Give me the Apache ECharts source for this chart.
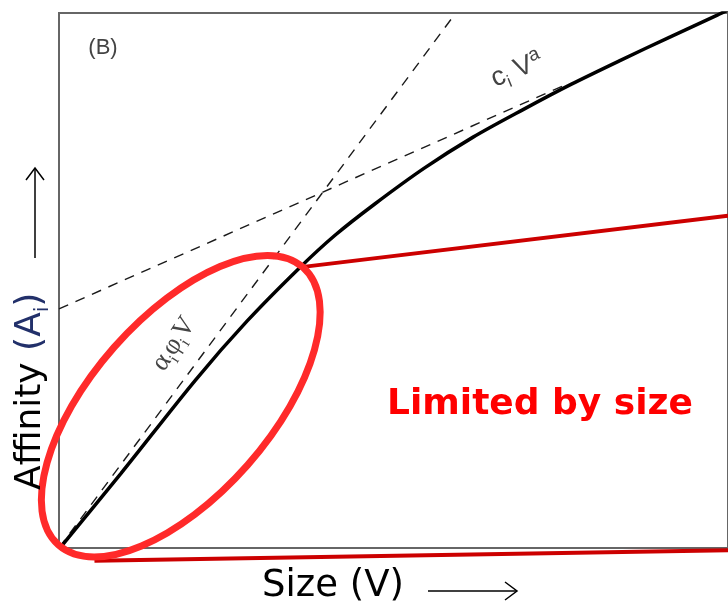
<!DOCTYPE html>
<html><head><meta charset="utf-8">
<script src="https://cdn.jsdelivr.net/npm/echarts/dist/echarts.min.js"></script>
<style>html,body{margin:0;padding:0;background:#fff}#c{width:728px;height:607px}</style>
</head><body><div id="c"></div>
<script>
const curveV = [0.4, 9.3, 20.4, 28.1, 35.9, 41.3, 47.2, 54.6, 61.9, 69.3, 76.6, 84.0, 91.3, 98.4, 100];
const curveA = [0.4, 14.0, 31.4, 42.4, 52.3, 58.5, 64.3, 71.0, 76.8, 81.9, 86.7, 91.2, 95.5, 99.6, 100.6];
// Dashed asymptote alpha_i phi_i V (linear)
const linV = [0, 59.3];
const linA = [0, 100];
// Dashed asymptote c_i V^a
const powV = [0, 75.9];
const powA = [44.7, 86.7];
// Red connector lines from the ellipse to the callout
const callTopV = [36.2, 100];
const callTopA = [52.5, 62.1];
const callBotV = [5.3, 100];
const callBotA = [-2.4, -0.4];
// Annotation anchors (data units)
const ellipseCenter = [18.2, 26.5];
const labelCalloutText = 'Limited by size';

const zip = (a, b) => a.map((v, i) => [v, b[i]]);
const chart = echarts.init(document.getElementById('c'), null, {renderer: 'canvas'});
const lineSeries = (data, color, width, type, z) => ({
  type: 'line', data, showSymbol: false, silent: true, clip: false, z: z || 2,
  lineStyle: {color, width, type: type || 'solid'}
});
chart.setOption({
  animation: false,
  backgroundColor: '#fff',
  grid: {left: 59, top: 13, width: 680, height: 535, show: true, borderColor: '#666', borderWidth: 2, backgroundColor: 'transparent'},
  xAxis: {type: 'value', min: 0, max: 100, axisLine: {show: false}, axisTick: {show: false}, axisLabel: {show: false}, splitLine: {show: false}},
  yAxis: {type: 'value', min: 0, max: 100, axisLine: {show: false}, axisTick: {show: false}, axisLabel: {show: false}, splitLine: {show: false}},
  series: [
    lineSeries(zip(linV, linA), '#1a1a1a', 1.4, [10, 8]),
    lineSeries(zip(powV, powA), '#1a1a1a', 1.4, [10, 8]),
    Object.assign(lineSeries(zip(curveV, curveA), '#000', 3.5), {smooth: 0.3, clip: true}),
    lineSeries(zip(callTopV, callTopA), '#cc0000', 4, 'solid', 3),
    lineSeries(zip(callBotV, callBotA), '#cc0000', 4, 'solid', 3)
  ]
});

const ec = chart.convertToPixel({gridIndex: 0}, ellipseCenter);
const arrowH = (x1, x2, y) => [
  {type: 'line', shape: {x1, y1: y, x2, y2: y}, style: {stroke: '#000', lineWidth: 1.5}},
  {type: 'polyline', shape: {points: [[x2 - 12, y - 9], [x2, y], [x2 - 12, y + 9]]}, style: {stroke: '#000', lineWidth: 1.5, fill: 'none'}}
];
const arrowV = (x, y1, y2) => [
  {type: 'line', shape: {x1: x, y1, x2: x, y2}, style: {stroke: '#000', lineWidth: 1.5}},
  {type: 'polyline', shape: {points: [[x - 9, y2 + 12], [x, y2], [x + 9, y2 + 12]]}, style: {stroke: '#000', lineWidth: 1.5, fill: 'none'}}
];
chart.setOption({
  graphic: [
    {type: 'ellipse', x: ec[0], y: ec[1], rotation: 48.6 * Math.PI / 180, z: 10,
      shape: {cx: 0, cy: 0, rx: 185, ry: 89}, style: {fill: 'none', stroke: '#ff2a2a', lineWidth: 7}},
    {type: 'text', x: 103, y: 48, z: 10, style: {text: '(B)', font: '22px "Liberation Sans", Arial', fill: '#444', textAlign: 'center', textVerticalAlign: 'middle'}},
    {type: 'text', x: 517, y: 70, z: 10, rotation: 22 * Math.PI / 180,
      style: {text: '{n|c}{s|i}{n| V}{p|a}', textAlign: 'center', textVerticalAlign: 'middle', fill: '#444',
        rich: {n: {font: '27px "Liberation Sans", Arial', fill: '#444', lineHeight: 34},
               s: {font: '17px "Liberation Sans", Arial', fill: '#444', verticalAlign: 'bottom', lineHeight: 34},
               p: {font: '19px "Liberation Sans", Arial', fill: '#444', verticalAlign: 'top', lineHeight: 34}}}},
    {type: 'text', x: 174, y: 344, z: 10, rotation: 57 * Math.PI / 180,
      style: {text: '{n|α}{s|i}{n|φ}{s|i}{n|V}', textAlign: 'center', textVerticalAlign: 'middle', fill: '#444',
        rich: {n: {font: '27px "Liberation Serif", serif', fill: '#444', lineHeight: 34},
               s: {font: '16px "Liberation Serif", serif', fill: '#444', verticalAlign: 'bottom', lineHeight: 34}}}},
    {type: 'text', x: 540, y: 405, z: 10,
      style: {text: labelCalloutText, font: 'bold 36px "DejaVu Sans", Verdana, sans-serif', fill: '#ff0000', textAlign: 'center', textVerticalAlign: 'middle'}},
    {type: 'text', x: 262, y: 586, z: 10,
      style: {text: 'Size (V)', font: '37px "DejaVu Sans", Verdana, sans-serif', fill: '#000', textAlign: 'left', textVerticalAlign: 'middle'}},
    {type: 'text', x: 31, y: 490, z: 10, rotation: Math.PI / 2,
      style: {text: '{n|Affinity }{b|(A}{s|i}{b|)}', textAlign: 'left', textVerticalAlign: 'middle',
        rich: {n: {font: '36px "DejaVu Sans", Verdana, sans-serif', fill: '#000', lineHeight: 44},
               b: {font: '36px "DejaVu Sans", Verdana, sans-serif', fill: '#22306a', lineHeight: 44},
               s: {font: '20px "DejaVu Sans", Verdana, sans-serif', fill: '#22306a', verticalAlign: 'bottom', lineHeight: 44}}}},
    ...arrowH(428, 517, 591),
    ...arrowV(35, 258, 168)
  ]
});
</script></body></html>
